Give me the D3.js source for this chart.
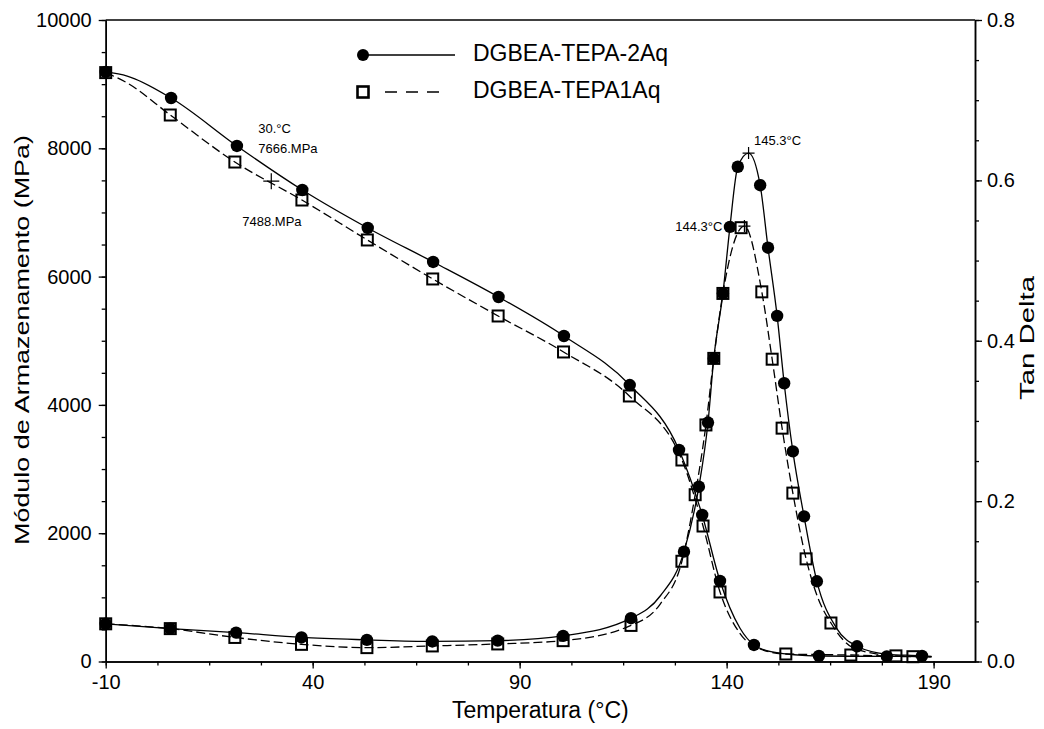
<!DOCTYPE html>
<html><head><meta charset="utf-8">
<script src="https://cdn.jsdelivr.net/npm/d3@7/dist/d3.min.js"></script>
<style>
body{margin:0;background:#fff}
text{font-family:"Liberation Sans",Arial,sans-serif;fill:#000}
</style>
</head><body>
<svg id="c" width="1044" height="729"></svg>
<script>
// ---- data ----
const seriesNames = ["DGBEA-TEPA-2Aq", "DGBEA-TEPA1Aq"];

// Storage modulus (MPa), markers
const mod2AqT = [-10, 5.8, 21.7, 37.5, 53.3, 69.1, 84.9, 100.7, 116.6, 128.5, 134.1, 138.4, 146.6, 162.3, 178.7];
const mod2AqV = [9190, 8784, 8036, 7350, 6758, 6228, 5682, 5074, 4310, 3297, 2284, 1255, 258, 86, 80];
const mod2AqExtraT = [-4.8, 143.2, 151, 170, 189.5];
const mod2AqExtraV = [9127, 522, 150, 82, 78];

const mod1AqT = [-10, 5.6, 21.2, 37.4, 53.2, 69.0, 84.8, 100.6, 116.5, 129.2, 134.3, 138.4, 154.3, 170.0, 185.0];
const mod1AqV = [9180, 8519, 7786, 7194, 6571, 5963, 5386, 4825, 4139, 3141, 2112, 1084, 117, 101, 75];
const mod1AqExtraT = [-4.8, 143.2, 146.6, 189.5];
const mod1AqExtraV = [9018, 440, 235, 72];

// Tan delta, markers
const tan2AqT = [-10, 5.6, 21.5, 37.3, 53.1, 68.9, 84.7, 100.5, 116.9, 129.7, 133.3, 135.5, 136.9, 139.1, 140.8, 142.7, 148.1, 150.0, 152.2, 153.9, 156.0, 158.7, 161.8, 171.5, 187.2];
const tan2AqV = [0.047, 0.041, 0.036, 0.030, 0.027, 0.025, 0.026, 0.032, 0.054, 0.137, 0.218, 0.298, 0.378, 0.459, 0.542, 0.617, 0.594, 0.516, 0.431, 0.347, 0.262, 0.181, 0.100, 0.019, 0.007];
const tan2AqExtraT = [124, 145.3, 166.5, 179, 189.5];
const tan2AqExtraV = [0.082, 0.634, 0.042, 0.009, 0.006];

const tan1AqT = [-10, 5.6, 21.2, 37.3, 53.1, 68.9, 84.7, 100.5, 116.9, 129.2, 132.4, 135.0, 136.9, 139.1, 143.5, 148.5, 151.0, 153.4, 156.0, 159.2, 165.2, 180.9];
const tan1AqV = [0.047, 0.041, 0.030, 0.0214, 0.0173, 0.0194, 0.0219, 0.026, 0.045, 0.125, 0.208, 0.295, 0.378, 0.459, 0.541, 0.461, 0.377, 0.291, 0.210, 0.128, 0.048, 0.007];
const tan1AqExtraT = [124, 144.3, 162, 171, 189.5];
const tan1AqExtraV = [0.072, 0.543, 0.080, 0.016, 0.006];

// Axis ticks
const xTicks = [-10, 40, 90, 140, 190];
const yLTicks = [0, 2000, 4000, 6000, 8000, 10000];
const yRTicks = [0, 0.2, 0.4, 0.6, 0.8];

// Annotations
const annMod = {T: 30, v2: 7666, v1: 7488};
const annPeak2 = {T: 145.3, v: 0.634};
const annPeak1 = {T: 144.3, v: 0.543};

// ---- drawing ----
const svg = d3.select("#c");
const L = 105.7, R = 975, T = 20, B = 661.5;
const x = d3.scaleLinear().domain([-10, 200]).range([L, R]);
const yL = d3.scaleLinear().domain([0, 10000]).range([B, T]);
const yR = d3.scaleLinear().domain([0, 0.8]).range([B, T]);

const zip = (a, b) => a.map((d, i) => [d, b[i]]);
const merge = (t, v, et, ev) => zip(t, v).concat(zip(et, ev)).sort((a, b) => a[0] - b[0]);

function axisStyle(g) {
  g.selectAll("path.domain").attr("stroke", "#000").attr("stroke-width", 1.5);
  g.selectAll(".tick line").attr("stroke", "#000").attr("stroke-width", 1.3);
  g.selectAll(".tick text").style("font-size", "20px").attr("fill", "#000");
}

// minor ticks
svg.append("g").attr("transform", `translate(0,${B})`)
  .call(d3.axisBottom(x).tickValues(d3.range(-10, 200.1, 12.5)).tickSize(4).tickFormat("").tickSizeOuter(0))
  .call(axisStyle);
svg.append("g").attr("transform", `translate(${L},0)`)
  .call(d3.axisLeft(yL).tickValues(d3.range(0, 10001, 500)).tickSize(4).tickFormat("").tickSizeOuter(0))
  .call(axisStyle);
svg.append("g").attr("transform", `translate(${R},0)`)
  .call(d3.axisRight(yR).tickValues(d3.range(0, 0.8001, 0.05)).tickSize(4).tickFormat("").tickSizeOuter(0))
  .call(axisStyle);

// major ticks
const gx = svg.append("g").attr("transform", `translate(0,${B})`)
  .call(d3.axisBottom(x).tickValues(xTicks).tickSize(7).tickPadding(5).tickFormat(d => String(d)).tickSizeOuter(0))
  .call(axisStyle);
const gyl = svg.append("g").attr("transform", `translate(${L},0)`)
  .call(d3.axisLeft(yL).tickValues(yLTicks).tickSize(7).tickPadding(7).tickFormat(d => String(d)).tickSizeOuter(0))
  .call(axisStyle);
const gyr = svg.append("g").attr("transform", `translate(${R},0)`)
  .call(d3.axisRight(yR).tickValues(yRTicks).tickSize(7).tickPadding(5).tickFormat(d => d.toFixed(1)).tickSizeOuter(0))
  .call(axisStyle);
gx.selectAll(".tick text").attr("dy", "0.75em");

// top frame line
svg.append("line").attr("x1", L).attr("x2", R).attr("y1", T).attr("y2", T)
  .attr("stroke", "#000").attr("stroke-width", 1.5);

// axis titles
svg.append("text").attr("x", (L + R) / 2).attr("y", 712).attr("text-anchor", "middle")
  .attr("dominant-baseline", "middle").style("font-size", "23px").text("Temperatura (°C)");
svg.append("text").attr("transform", `translate(23,340) rotate(-90)`)
  .attr("text-anchor", "middle").attr("dominant-baseline", "middle").style("font-size", "21px")
  .attr("textLength", 410).attr("lengthAdjust", "spacingAndGlyphs")
  .text("Módulo de Armazenamento (MPa)");
svg.append("text").attr("transform", `translate(1028,338) rotate(-90)`)
  .attr("text-anchor", "middle").attr("dominant-baseline", "middle").style("font-size", "21px")
  .attr("textLength", 124).attr("lengthAdjust", "spacingAndGlyphs")
  .text("Tan Delta");

// curves
const lineL = d3.line().x(d => x(d[0])).y(d => yL(d[1])).curve(d3.curveMonotoneX);
const lineR = d3.line().x(d => x(d[0])).y(d => yR(d[1])).curve(d3.curveMonotoneX);
const curves = [
  {d: merge(mod2AqT, mod2AqV, mod2AqExtraT, mod2AqExtraV), gen: lineL, dash: null},
  {d: merge(mod1AqT, mod1AqV, mod1AqExtraT, mod1AqExtraV), gen: lineL, dash: "9,4"},
  {d: merge(tan2AqT, tan2AqV, tan2AqExtraT, tan2AqExtraV), gen: lineR, dash: null},
  {d: merge(tan1AqT, tan1AqV, tan1AqExtraT, tan1AqExtraV), gen: lineR, dash: "9,4"}
];
curves.forEach(c => {
  svg.append("path").attr("d", c.gen(c.d)).attr("fill", "none").attr("stroke", "#000")
    .attr("stroke-width", 1.3).attr("stroke-dasharray", c.dash);
});

// markers: squares first, circles on top
const sq = 11;
function squares(pts, yS) {
  svg.append("g").selectAll("rect").data(pts).join("rect")
    .attr("x", d => x(d[0]) - sq / 2).attr("y", d => yS(d[1]) - sq / 2)
    .attr("width", sq).attr("height", sq).attr("fill", "none")
    .attr("stroke", "#000").attr("stroke-width", 2);
}
function circles(pts, yS) {
  svg.append("g").selectAll("circle").data(pts).join("circle")
    .attr("cx", d => x(d[0])).attr("cy", d => yS(d[1])).attr("r", 6.2).attr("fill", "#000");
}
squares(zip(mod1AqT, mod1AqV), yL);
squares(zip(tan1AqT, tan1AqV), yR);
circles(zip(mod2AqT, mod2AqV), yL);
circles(zip(tan2AqT, tan2AqV), yR);

// annotation crosses
function cross(cx, cy, a) {
  svg.append("path").attr("d", `M${cx - a},${cy}H${cx + a}M${cx},${cy - a}V${cy + a}`)
    .attr("stroke", "#000").attr("stroke-width", 1.2);
}
cross(x(annMod.T), yL(annMod.v1), 8);
cross(x(annPeak2.T), yR(annPeak2.v), 6);
cross(x(annPeak1.T), yR(annPeak1.v), 6);

const ann = (tx, ty, s, anchor) => svg.append("text").attr("x", tx).attr("y", ty)
  .attr("text-anchor", anchor || "start").attr("dominant-baseline", "middle")
  .style("font-size", "13px").text(s);
ann(x(annMod.T) - 13, yL(annMod.v2) - 40, annMod.T + ".°C");
ann(x(annMod.T) - 13, yL(annMod.v2) - 20, annMod.v2 + ".MPa");
ann(x(annMod.T) - 29, yL(annMod.v1) + 41, annMod.v1 + ".MPa");
ann(x(annPeak2.T) + 5.5, yR(annPeak2.v) - 12, annPeak2.T + "°C");
ann(x(annPeak1.T) - 22, yR(annPeak1.v) + 1, annPeak1.T + "°C", "end");

// legend
const lg = svg.append("g");
lg.append("circle").attr("cx", 363).attr("cy", 55).attr("r", 6).attr("fill", "#000");
lg.append("line").attr("x1", 367).attr("x2", 455).attr("y1", 55).attr("y2", 55)
  .attr("stroke", "#000").attr("stroke-width", 1.3);
lg.append("text").attr("x", 473).attr("y", 55).attr("dominant-baseline", "middle")
  .style("font-size", "23px").text(seriesNames[0]);
lg.append("rect").attr("x", 363 - 5.5).attr("y", 92 - 5.5).attr("width", 11).attr("height", 11)
  .attr("fill", "none").attr("stroke", "#000").attr("stroke-width", 2.6);
lg.append("line").attr("x1", 385).attr("x2", 440).attr("y1", 92).attr("y2", 92)
  .attr("stroke", "#000").attr("stroke-width", 1.3).attr("stroke-dasharray", "12,9");
lg.append("text").attr("x", 473).attr("y", 92).attr("dominant-baseline", "middle")
  .style("font-size", "23px").text(seriesNames[1]);
</script>
</body></html>
